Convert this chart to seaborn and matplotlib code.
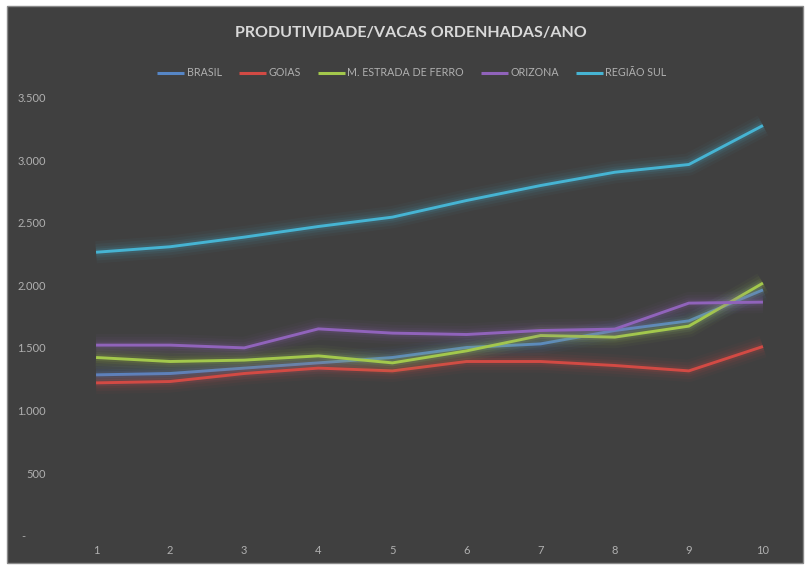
import matplotlib
matplotlib.use("Agg")
import matplotlib.pyplot as plt
import matplotlib.patheffects as pe
from matplotlib.patches import Rectangle
import pandas as pd
import seaborn as sns

# Milk productivity per milked cow per year, by region
anos = [1, 2, 3, 4, 5, 6, 7, 8, 9, 10]
brasil = [1285, 1296, 1339, 1381, 1424, 1504, 1533, 1640, 1717, 1965]
goias = [1221, 1232, 1296, 1339, 1317, 1392, 1392, 1360, 1317, 1512]
estrada_ferro = [1424, 1392, 1403, 1437, 1381, 1477, 1600, 1587, 1675, 2019]
orizona = [1523, 1523, 1501, 1653, 1619, 1608, 1640, 1651, 1859, 1867]
regiao_sul = [2266, 2310, 2387, 2472, 2547, 2680, 2800, 2906, 2968, 3280]

series_names = ["BRASIL", "GOIAS", "M. ESTRADA DE FERRO", "ORIZONA", "REGIÃO SUL"]
series_values = [brasil, goias, estrada_ferro, orizona, regiao_sul]
colors = ["#5686c6", "#d24a44", "#a3c84c", "#9063bb", "#46b4d3"]

y_ticks = [0, 500, 1000, 1500, 2000, 2500, 3000, 3500]
y_tick_labels = ["-       ", "500", "1.000", "1.500", "2.000", "2.500", "3.000", "3.500"]
title = "PRODUTIVIDADE/VACAS ORDENHADAS/ANO"

df = pd.DataFrame(
    [(x, name, v) for name, vals in zip(series_names, series_values) for x, v in zip(anos, vals)],
    columns=["ano", "serie", "valor"],
)

sns.set_theme(style="dark")
plt.rcParams["font.family"] = ["Lato", "DejaVu Sans"]

bg = "#404040"
fig = plt.figure(figsize=(8.05, 5.66), dpi=100, facecolor="white")
panel = Rectangle((7 / 805, 3 / 566), 796 / 805, 557 / 566, transform=fig.transFigure,
                  facecolor=bg, edgecolor="#8a8a8a", linewidth=1.0, zorder=-10)
fig.patches.append(panel)

ax = fig.add_axes([59 / 805, (566 - 535.5) / 566, 741 / 805, (535.5 - 98) / 566])
ax.set_facecolor("none")
ax.patch.set_alpha(0)

sns.lineplot(data=df, x="ano", y="valor", hue="serie", hue_order=series_names,
             palette=colors, linewidth=2.1, legend=False, ax=ax)

# soft glow under each series
for line, c in zip(ax.get_lines(), colors):
    line.set_solid_capstyle("butt")
    line.set_path_effects([
        pe.Stroke(linewidth=16, foreground=c, alpha=0.04),
        pe.Stroke(linewidth=12, foreground=c, alpha=0.06),
        pe.Stroke(linewidth=8, foreground=c, alpha=0.08),
        pe.Stroke(linewidth=5, foreground=c, alpha=0.12),
        pe.Normal(),
    ])

ax.set_xlim(0.5, 10.5)
ax.set_ylim(0, 3500)
ax.set_xticks(anos)
ax.set_xticklabels([str(a) for a in anos])
ax.set_yticks(y_ticks)
ax.set_yticklabels(y_tick_labels)
ax.tick_params(axis="both", length=0, colors="#b0b0b0", labelsize=8)
ax.tick_params(axis="y", pad=9.5)
ax.tick_params(axis="x", pad=7)
ax.set_xlabel("")
ax.set_ylabel("")
ax.grid(False)
for s in ax.spines.values():
    s.set_visible(False)

handles = ax.get_lines()[:len(series_names)]
leg = ax.legend(handles, series_names, loc="center", bbox_to_anchor=(412 / 805, 1 - 73 / 566),
                bbox_transform=fig.transFigure, ncol=5, frameon=False, fontsize=7.7,
                handlelength=2.5, handletextpad=0.25, columnspacing=1.6)
for t in leg.get_texts():
    t.set_color("#b0b0b0")
for h in leg.get_lines():
    h.set_path_effects([])
    h.set_linewidth(2.2)

fig.text(411 / 805, 1 - 32.5 / 566, title, ha="center", va="center", fontsize=11.5,
         fontweight="bold", color="#d9d9d9")

fig.savefig("out.png", dpi=100, facecolor=fig.get_facecolor())
